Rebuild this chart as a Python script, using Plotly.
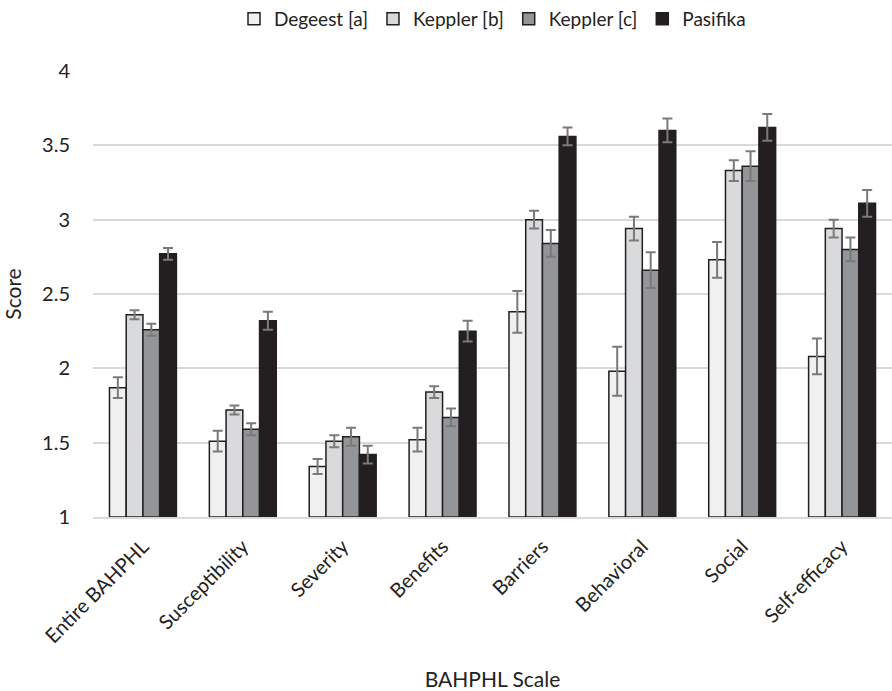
import plotly.graph_objects as go

categories = ["Entire BAHPHL", "Susceptibility", "Severity", "Benefits", "Barriers", "Behavioral", "Social", "Self-efficacy"]
series_names = ["Degeest [a]", "Keppler [b]", "Keppler [c]", "Pasifika"]

degeest = [1.87, 1.51, 1.34, 1.52, 2.38, 1.98, 2.73, 2.08]
degeest_err = [0.07, 0.07, 0.05, 0.08, 0.14, 0.165, 0.12, 0.12]
keppler_b = [2.36, 1.72, 1.51, 1.84, 3.00, 2.94, 3.33, 2.94]
keppler_b_err = [0.03, 0.03, 0.04, 0.04, 0.06, 0.08, 0.07, 0.06]
keppler_c = [2.26, 1.59, 1.54, 1.67, 2.84, 2.66, 3.36, 2.80]
keppler_c_err = [0.04, 0.04, 0.06, 0.06, 0.09, 0.12, 0.10, 0.08]
pasifika = [2.77, 2.32, 1.42, 2.25, 3.56, 3.60, 3.62, 3.11]
pasifika_err = [0.04, 0.06, 0.06, 0.07, 0.06, 0.08, 0.09, 0.09]

values = [degeest, keppler_b, keppler_c, pasifika]
errors = [degeest_err, keppler_b_err, keppler_c_err, pasifika_err]
colors = ["#f0f0f0", "#d9dadc", "#939598", "#231f20"]

FONT = "Lato, Open Sans, sans-serif"

fig = go.Figure()
for name, v, e, c in zip(series_names, values, errors, colors):
    fig.add_trace(go.Bar(
        name=name, x=categories, y=[val - 1 for val in v], base=1,
        marker=dict(color=c, line=dict(color="#231f20", width=1.5)),
        error_y=dict(type="data", array=e, color="#7a7a7a", thickness=2, width=5),
        hoverinfo="skip",
    ))

fig.update_layout(
    width=892, height=691,
    barmode="group", bargap=0.33, bargroupgap=0,
    plot_bgcolor="white", paper_bgcolor="white",
    margin=dict(l=93, r=0, t=71, b=174, autoexpand=False),
    font=dict(family=FONT, size=20, color="#222222"),
    legend=dict(orientation="h", x=0.5, xanchor="center", y=1.0, yanchor="top",
                yref="container", font=dict(size=19), traceorder="normal",
                itemwidth=30, tracegroupgap=0),
    showlegend=True,
)
fig.update_yaxes(range=[1, 4], dtick=0.5, showgrid=True, gridcolor="#d9d9d9", gridwidth=2,
                 zeroline=False, showline=False, ticks="", automargin=False,
                 title=dict(text="Score", font=dict(size=21), standoff=17),
                 tickfont=dict(size=20), ticklabelstandoff=22)
fig.update_xaxes(showline=True, linecolor="#d9d9d9", linewidth=2, ticks="", automargin=False,
                 tickangle=-45, tickfont=dict(size=20), ticklabelstandoff=8,
                 title=dict(text="BAHPHL Scale", font=dict(size=21), standoff=27))

fig.write_html("out.html", config={"displayModeBar": False},
               post_script="document.body.style.margin='0';document.body.style.overflow='hidden';")
